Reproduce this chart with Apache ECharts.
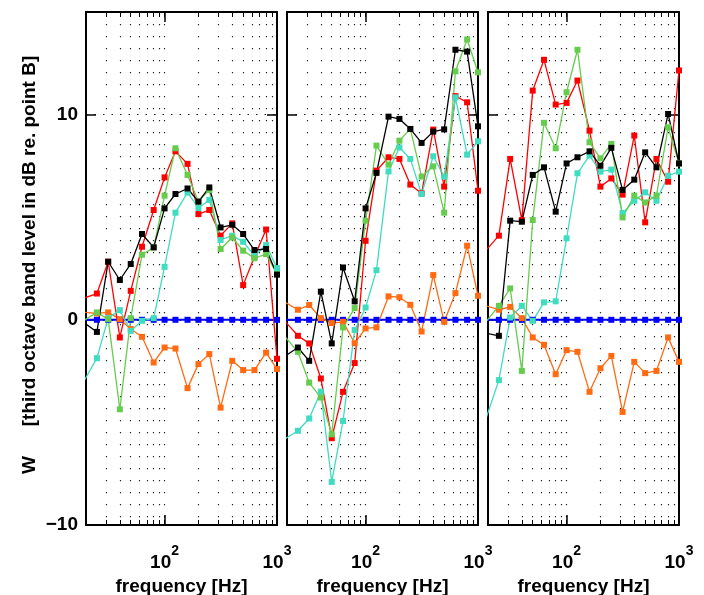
<!DOCTYPE html>
<html>
<head>
<meta charset="utf-8">
<script src="https://cdn.jsdelivr.net/npm/echarts@6.0.0/dist/echarts.min.js"></script>
<style>
  html, body { margin: 0; padding: 0; background: #fff; }
  #chart { width: 704px; height: 595px; }
</style>
</head>
<body>
<div id="chart"></div>
<script>
// third octave band centre frequencies (first one lies left of the axis)
const freq = [16, 25, 31.5, 40, 50, 63, 80, 100, 125, 160, 200, 250, 315, 400, 500, 630, 800, 1000];

const red1 = [0.9, 1.28, 2.83, -0.86, 1.41, 3.56, 5.35, 6.94, 8.21, 7.6, 5.15, 5.35, 4.1, 4.7, 1.69, 3.07, 4.4, -1.9];
const black1 = [0.17, -0.59, 2.83, 1.94, 2.72, 4.18, 3.53, 5.43, 6.13, 6.4, 5.76, 6.45, 4.5, 4.63, 4.18, 3.4, 3.45, 2.2];
const green1 = [-0.3, 0.36, 0.03, -4.36, 0.08, 3.17, 3.53, 6.05, 8.36, 7.06, 5.76, 6.33, 3.45, 4.01, 3.37, 3.0, 3.2, 2.23];
const cyan1 = [-3.75, -1.87, 0.08, 0.47, -0.54, -0.05, 0.08, 2.58, 5.22, 6.2, 5.45, 5.84, 3.89, 4.1, 3.8, 3.12, 3.64, 2.52];
const orange1 = [0.41, 0.31, 0.36, 0.03, -0.45, -0.83, -2.08, -1.35, -1.4, -3.33, -2.16, -1.67, -4.28, -2.0, -2.45, -2.45, -1.6, -2.4];

const red2 = [0.42, -0.78, -1.15, -2.86, -5.77, -3.51, -2.11, 3.85, 7.27, 7.92, 7.84, 6.59, 6.16, 9.27, 6.49, 10.9, 10.6, 6.29];
const black2 = [-2.07, -1.35, -2.0, 1.37, -1.15, 2.55, 0.9, 5.43, 7.16, 9.9, 9.79, 9.3, 8.62, 9.17, 9.28, 13.16, 13.07, 9.43];
const green2 = [-0.32, -1.56, -3.06, -3.79, -5.58, -0.37, 0.57, 4.83, 8.49, 7.56, 8.73, 9.3, 6.98, 7.48, 5.22, 12.11, 13.66, 12.06];
const cyan2 = [-6.07, -5.41, -4.81, -3.5, -7.9, -4.93, -0.5, 0.6, 2.42, 7.23, 8.4, 7.84, 6.13, 7.97, 6.98, 10.84, 8.05, 8.7];
const orange2 = [1.11, 0.49, 0.72, 0.08, -0.16, -0.1, -1.14, -0.42, -0.37, 1.14, 1.1, 0.73, -0.57, 2.18, -0.1, 1.3, 3.61, 1.17];

const red3 = [2.9, 4.1, 7.84, 4.86, 11.17, 12.67, 10.49, 10.57, 11.66, 9.22, 6.49, 6.89, 6.1, 8.98, 4.75, 7.84, 6.73, 12.15];
const black3 = [-0.56, -0.78, 4.83, 4.78, 7.06, 7.43, 5.27, 7.62, 7.92, 8.21, 7.51, 8.38, 6.33, 6.83, 8.16, 7.43, 10.03, 7.62];
const green3 = [-0.62, 0.68, 1.53, -2.49, 4.86, 9.6, 8.36, 11.09, 13.16, 8.65, 7.87, 8.57, 4.99, 6.05, 5.72, 6.05, 9.38, 7.62];
const cyan3 = [-6.1, -2.94, 0.11, 0.68, -0.05, 0.85, 0.9, 3.97, 7.14, 8.0, 7.22, 7.32, 5.2, 5.8, 6.21, 5.8, 7.02, 7.22];
const orange3 = [0.81, 0.49, 0.63, 0.08, -0.86, -1.22, -2.65, -1.48, -1.56, -3.51, -2.36, -1.76, -4.49, -2.05, -2.6, -2.49, -0.86, -2.05];

// reference point B itself
const blueRef = [0, 0, 0, 0, 0, 0, 0, 0, 0, 0, 0, 0, 0, 0, 0, 0, 0, 0];

const xMinorTicks = [30, 40, 50, 60, 70, 80, 90, 100, 200, 300, 400, 500, 600, 700, 800, 900];
const xMajorTicks = [100];
const xLabels = [100, 1000];
const yTicks = [-10, 0, 10];

const panels = [
  { left: 86, red: red1, black: black1, green: green1, cyan: cyan1, orange: orange1 },
  { left: 287, red: red2, black: black2, green: green2, cyan: cyan2, orange: orange2 },
  { left: 488, red: red3, black: black3, green: green3, cyan: cyan3, orange: orange3 },
];

const FONT = "'Liberation Sans', Arial, Helvetica, sans-serif";
const frameLine = { onZero: false, lineStyle: { color: "#000", width: 2 } };
const dotted = { color: "#222", width: 1.2, type: [1.2, 10.8] };

let grids = [];
let xAxes = [];
let yAxes = [];
let series = [];

panels.forEach((p, g) => {
  grids.push({ left: p.left, top: 12, width: 191, height: 513, outerBoundsMode: "none", containLabel: false });

  const logBase = { type: "log", logBase: 10, min: 20, max: 1000, gridIndex: g };
  xAxes.push({
    ...logBase,
    position: "bottom",
    axisLine: frameLine,
    axisTick: { inside: true, length: 5, customValues: xMinorTicks, lineStyle: { color: "#000", width: 1 } },
    axisLabel: {
      customValues: xLabels,
      margin: 19,
      formatter: (v) => "{b|10}{s|" + Math.round(Math.log10(v)) + "}",
      rich: {
        b: { fontFamily: FONT, fontSize: 19, fontWeight: "bold", color: "#000", verticalAlign: "bottom" },
        s: { fontFamily: FONT, fontSize: 14, fontWeight: "bold", color: "#000", verticalAlign: "bottom", padding: [0, 0, 14, 0] },
      },
    },
    splitLine: { show: true, lineStyle: dotted },
    name: "frequency [Hz]",
    nameLocation: "middle",
    nameGap: 47,
    nameTextStyle: { fontFamily: FONT, fontSize: 19, fontWeight: "bold", color: "#000" },
  });
  xAxes.push({
    ...logBase,
    position: "top",
    axisLine: frameLine,
    axisTick: { inside: true, length: 5, customValues: xMinorTicks, lineStyle: { color: "#000", width: 1 } },
    axisLabel: { show: false },
    splitLine: { show: false },
  });
  ["bottom", "top"].forEach((pos) => {
    xAxes.push({
      ...logBase,
      position: pos,
      axisLine: { show: false, onZero: false },
      axisTick: { inside: true, length: 10, customValues: xMajorTicks, lineStyle: { color: "#000", width: 1.5 } },
      axisLabel: { show: false },
      splitLine: { show: false },
    });
  });

  const linBase = { type: "value", min: -10, max: 15, interval: 10, gridIndex: g };
  yAxes.push({
    ...linBase,
    position: "left",
    axisLine: { show: true, ...frameLine },
    axisTick: { show: true, inside: true, length: 10, customValues: yTicks, lineStyle: { color: "#000", width: 1.5 } },
    axisLabel: {
      show: g === 0,
      customValues: yTicks,
      margin: 8,
      fontFamily: FONT,
      fontSize: 19,
      fontWeight: "bold",
      color: "#000",
      formatter: (v) => (v < 0 ? "\u2212" + -v : "" + v),
    },
    splitLine: { show: true, lineStyle: { color: "#222", width: 1.2, type: [1.5, 7] } },
  });
  yAxes.push({
    ...linBase,
    position: "right",
    axisLine: { show: true, ...frameLine },
    axisTick: { show: true, inside: true, length: 10, customValues: yTicks, lineStyle: { color: "#000", width: 1.5 } },
    axisLabel: { show: false },
    splitLine: { show: false },
  });

  const lines = [
    ["blue", "#0000ff", blueRef, 2],
    ["orange", "#ff6a12", p.orange, 1.3],
    ["red", "#ff0000", p.red, 1.3],
    ["cyan", "#3fdcc0", p.cyan, 1.3],
    ["green", "#66cc4e", p.green, 1.3],
    ["black", "#000000", p.black, 1.3],
  ];
  lines.forEach(([name, color, vals, w]) => {
    series.push({
      name: name,
      type: "line",
      xAxisIndex: g * 4,
      yAxisIndex: g * 2,
      data: freq.map((f, i) => [f, vals[i]]),
      symbol: "rect",
      symbolSize: 6,
      clip: true,
      color: color,
      lineStyle: { color: color, width: w },
      itemStyle: { color: color },
      animation: false,
    });
  });
});

let chart = echarts.init(document.getElementById("chart"));
let option = {
  backgroundColor: "#fff",
  animation: false,
  grid: grids,
  xAxis: xAxes,
  yAxis: yAxes,
  series: series,
  graphic: [
    {
      type: "text",
      x: 30,
      y: 241,
      rotation: Math.PI / 2,
      style: {
        text: "[third octave band level in dB re. point B]",
        font: "bold 19px " + FONT,
        fill: "#000",
        textAlign: "center",
        textVerticalAlign: "middle",
      },
    },
    {
      type: "text",
      x: 30,
      y: 465,
      rotation: Math.PI / 2,
      style: {
        text: "W",
        font: "bold 19px " + FONT,
        fill: "#000",
        textAlign: "center",
        textVerticalAlign: "middle",
      },
    },
  ],
};
option && chart.setOption(option);
</script>
</body>
</html>
